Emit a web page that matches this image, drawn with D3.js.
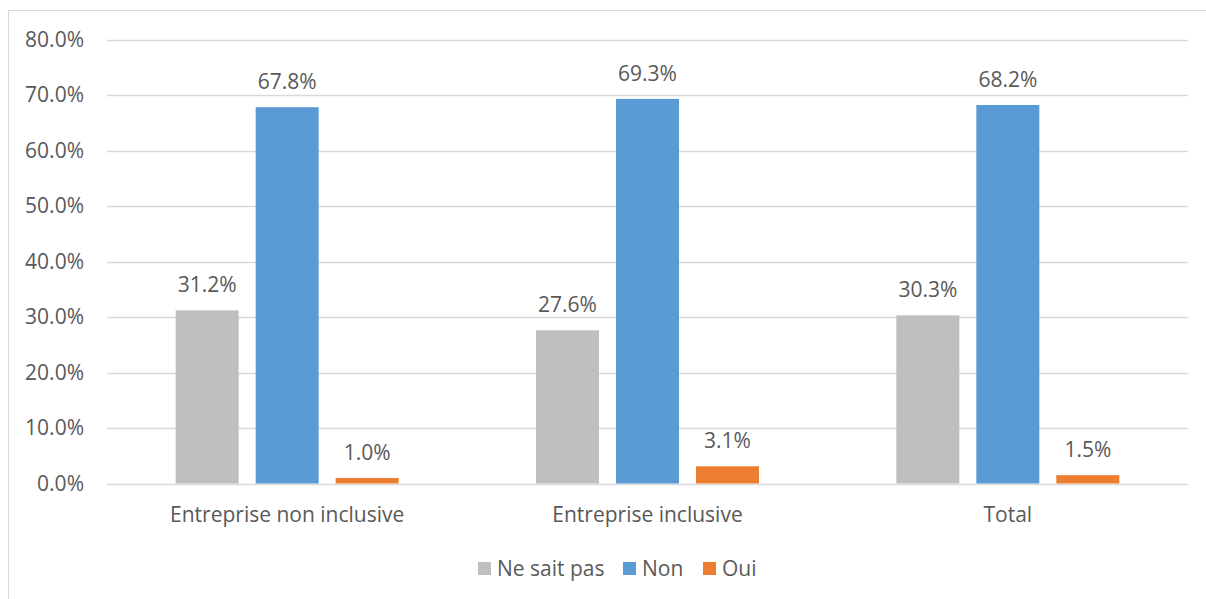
<!DOCTYPE html>
<html>
<head>
<meta charset="utf-8">
<script src="https://cdn.jsdelivr.net/npm/d3@7"></script>
<style>
  html, body { margin: 0; padding: 0; background: #fff; }
  svg { display: block; }
  text { font-family: "Open Sans", "Noto Sans", sans-serif; fill: #595959; }
</style>
</head>
<body>
<svg id="chart" width="1206" height="599"></svg>
<script>
// Categories, series and values (percentages)
const categories = ["Entreprise non inclusive", "Entreprise inclusive", "Total"];
const seriesNames = ["Ne sait pas", "Non", "Oui"];
const neSaitPas = [31.2, 27.6, 30.3];
const non = [67.8, 69.3, 68.2];
const oui = [1.0, 3.1, 1.5];
const yTicks = [0, 10, 20, 30, 40, 50, 60, 70, 80];
const colors = ["#BFBFBF", "#5B9BD5", "#ED7D31"];

const seriesValues = [neSaitPas, non, oui];
const data = categories.map((c, i) => ({
  category: c,
  values: seriesNames.map((s, j) => ({ series: s, value: seriesValues[j][i] }))
}));

const fontSize = 21;
const svg = d3.select("#chart");

// Chart area border (top and left edges visible)
svg.append("rect")
  .attr("x", 8.5).attr("y", 10.5)
  .attr("width", 1210).attr("height", 600)
  .attr("fill", "none").attr("stroke", "#D9D9D9").attr("stroke-width", 1);

const plot = { left: 107, right: 1188, top: 39.5, bottom: 483.5 };

const y = d3.scaleLinear().domain([0, 80]).range([plot.bottom, plot.top]);
const x0 = d3.scaleBand().domain(categories).range([plot.left, plot.right]).padding(0);
const groupWidth = 223;
const x1 = d3.scaleBand().domain(seriesNames).range([0, groupWidth]).paddingInner(17 / 80);

// Gridlines
svg.append("g")
  .selectAll("line")
  .data(yTicks)
  .join("line")
  .attr("x1", plot.left).attr("x2", plot.right)
  .attr("y1", d => Math.round(y(d)) + 0.5).attr("y2", d => Math.round(y(d)) + 0.5)
  .attr("stroke", "#D9D9D9").attr("stroke-width", 1.3);

// Y axis labels
const yAxis = d3.axisLeft(y).tickValues(yTicks).tickSize(0).tickPadding(0)
  .tickFormat(d => d3.format(".1f")(d) + "%");
svg.append("g")
  .attr("transform", `translate(84,0)`)
  .call(yAxis)
  .call(g => g.select(".domain").remove())
  .call(g => g.selectAll("text")
    .attr("font-size", fontSize)
    .attr("fill", "#595959")
    .attr("font-family", "'Open Sans', sans-serif"));

// Bars
const groups = svg.append("g")
  .selectAll("g")
  .data(data)
  .join("g")
  .attr("transform", d => `translate(${x0(d.category) + x0.bandwidth() / 2 - groupWidth / 2},0)`);

groups.selectAll("rect")
  .data(d => d.values)
  .join("rect")
  .attr("x", d => x1(d.series))
  .attr("y", d => y(d.value))
  .attr("width", x1.bandwidth())
  .attr("height", d => y(0) - y(d.value))
  .attr("fill", (d, i) => colors[i]);

// Value labels
groups.selectAll("text")
  .data(d => d.values)
  .join("text")
  .attr("x", d => x1(d.series) + x1.bandwidth() / 2)
  .attr("y", d => y(d.value) - 18)
  .attr("text-anchor", "middle")
  .attr("font-size", fontSize)
  .text(d => d3.format(".1f")(d.value) + "%");

// X axis labels
const xAxis = d3.axisBottom(x0).tickSize(0).tickPadding(0);
svg.append("g")
  .attr("transform", `translate(0,${plot.bottom})`)
  .call(xAxis)
  .call(g => g.select(".domain").remove())
  .call(g => g.selectAll("text")
    .attr("dy", 0)
    .attr("y", 38)
    .attr("font-size", fontSize)
    .attr("fill", "#595959")
    .attr("font-family", "'Open Sans', sans-serif"));

// Legend
const legendItems = [
  { name: seriesNames[0], color: colors[0], x: 478 },
  { name: seriesNames[1], color: colors[1], x: 623 },
  { name: seriesNames[2], color: colors[2], x: 703 }
];
const legend = svg.append("g");
const li = legend.selectAll("g").data(legendItems).join("g")
  .attr("transform", d => `translate(${d.x},562)`);
li.append("rect").attr("width", 13).attr("height", 13).attr("fill", d => d.color);
li.append("text").attr("x", 19).attr("y", 13.5).attr("font-size", fontSize).text(d => d.name);
</script>
</body>
</html>
